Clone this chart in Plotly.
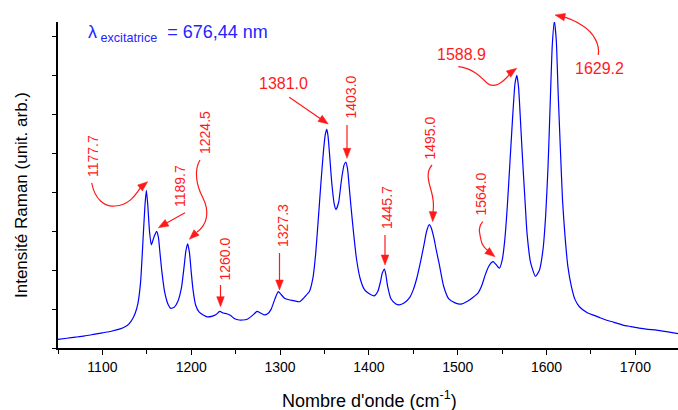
import math
import plotly.graph_objects as go

# ---- data ----
wavenumber = [
    1050, 1060, 1070, 1080, 1090, 1100, 1110, 1120, 1126, 1130,
    1134, 1137, 1140, 1143, 1146, 1148, 1149.5, 1151, 1153, 1155,
    1158, 1161, 1163, 1165, 1167, 1170, 1174, 1177, 1181, 1185,
    1189, 1192, 1194, 1196, 1198, 1200, 1202, 1205, 1209, 1214,
    1218, 1224, 1228, 1232, 1236, 1240, 1244, 1249, 1254, 1258,
    1263, 1268, 1271, 1274, 1278, 1282, 1286, 1290, 1294, 1298,
    1301, 1305, 1310, 1315, 1322, 1328, 1333, 1337, 1340, 1343,
    1346, 1349, 1351, 1352.6, 1354, 1356, 1358, 1361, 1363, 1366,
    1369, 1372, 1374, 1376, 1378, 1380, 1383, 1386, 1390, 1395,
    1400, 1406, 1410, 1413, 1415, 1417.5, 1419, 1421, 1425, 1430,
    1434, 1440, 1446, 1450, 1454, 1458, 1462, 1465, 1468, 1470,
    1473, 1476, 1479, 1484, 1490, 1497, 1504, 1511, 1517, 1523,
    1527, 1531, 1535, 1538, 1540, 1543, 1547, 1550, 1553, 1556,
    1559, 1562, 1564.5, 1566.6, 1568.5, 1571, 1573, 1576, 1578, 1582,
    1587.5, 1592, 1596, 1599, 1601.7, 1604, 1606.5, 1608.8, 1611, 1613,
    1615.6, 1618, 1620.5, 1624, 1628, 1632, 1637, 1645, 1652, 1660,
    1667, 1676, 1686, 1695, 1704, 1714, 1724, 1735, 1748,
]
intensity = [
    0.22, 0.25, 0.28, 0.31, 0.35, 0.39, 0.43, 0.49, 0.55, 0.62,
    0.75, 0.90, 1.15, 1.70, 2.90, 3.70, 4.05, 3.70, 3.00, 2.65,
    2.85, 3.00, 2.85, 2.40, 1.95, 1.45, 1.12, 1.02, 1.05, 1.20,
    1.55, 2.10, 2.50, 2.68, 2.45, 1.95, 1.50, 1.10, 0.92, 0.84,
    0.80, 0.82, 0.86, 0.94, 0.90, 0.88, 0.84, 0.75, 0.72, 0.72,
    0.74, 0.82, 0.88, 0.94, 0.90, 0.85, 0.88, 1.00, 1.25, 1.45,
    1.38, 1.28, 1.24, 1.22, 1.19, 1.32, 1.45, 1.80, 2.40, 3.30,
    4.24, 5.10, 5.50, 5.62, 5.45, 4.90, 4.30, 3.70, 3.56, 3.75,
    4.30, 4.70, 4.78, 4.60, 4.10, 3.60, 2.90, 2.30, 1.80, 1.50,
    1.40, 1.34, 1.45, 1.70, 1.92, 2.03, 1.90, 1.60, 1.26, 1.14,
    1.11, 1.16, 1.30, 1.50, 1.80, 2.20, 2.65, 3.00, 3.17, 3.10,
    2.85, 2.50, 2.18, 1.60, 1.26, 1.16, 1.13, 1.20, 1.30, 1.42,
    1.60, 1.88, 2.10, 2.20, 2.22, 2.15, 2.05, 2.25, 2.78, 3.70,
    4.85, 6.00, 6.80, 7.01, 6.70, 5.70, 4.85, 3.70, 2.96, 2.20,
    1.84, 2.00, 2.53, 3.40, 4.67, 6.20, 7.80, 8.40, 7.90, 6.60,
    5.10, 3.80, 2.96, 2.10, 1.58, 1.25, 1.06, 0.92, 0.85, 0.78,
    0.72, 0.66, 0.59, 0.55, 0.51, 0.48, 0.46, 0.42, 0.37,
]
assert len(wavenumber) == len(intensity)

x_ticks = [1100, 1200, 1300, 1400, 1500, 1600, 1700]

peak_labels = ["1177.7", "1189.7", "1224.5", "1260.0", "1327.3", "1381.0",
               "1403.0", "1445.7", "1495.0", "1564.0", "1588.9", "1629.2"]

# ---- layout helpers (pixel -> paper) ----
W, H = 678, 410
L, T, R, B = 58, 22, 678, 348


def pxx(x):
    return (x - L) / (R - L)


def pxy(y):
    return (B - y) / (B - T)


def pt(x, y):
    return f"{pxx(x):.5f},{pxy(y):.5f}"


RED = "#ff1a1a"
BLUE = "#0000ff"
FONT = "Arial, Liberation Sans, sans-serif"

fig = go.Figure()
fig.add_trace(go.Scatter(
    x=wavenumber, y=intensity, mode="lines",
    line=dict(color=BLUE, width=1.2, shape="spline", smoothing=0.5),
    hoverinfo="skip", showlegend=False,
))

annotations = []
shapes = []

# label text positions: (cx, cy, angle, size)
text_pos = {
    "1177.7": (93, 156, -90, 14),
    "1189.7": (180, 186, -90, 14),
    "1224.5": (205, 133, -90, 14),
    "1260.0": (224.5, 259, -90, 14),
    "1327.3": (283, 226, -90, 14),
    "1381.0": (283, 83.5, 0, 16),
    "1403.0": (350, 97.5, -90, 14),
    "1445.7": (387.5, 207.5, -90, 14),
    "1495.0": (429.5, 138, -90, 14),
    "1564.0": (480.5, 194, -90, 14),
    "1588.9": (461.5, 55, 0, 16),
    "1629.2": (599.5, 68.5, 0, 16),
}
for lab in peak_labels:
    cx, cy, ang, sz = text_pos[lab]
    annotations.append(dict(
        text=lab, x=pxx(cx), y=pxy(cy), xref="paper", yref="paper",
        showarrow=False, textangle=ang, xanchor="center", yanchor="middle",
        font=dict(family=FONT, size=sz, color=RED),
    ))

# arrows (pixel geometry): (tail, head, draw_shaft)
arrows = [
    ((185, 212.7), (158.3, 227.7), True),
    ((220.5, 285), (220.5, 306.7), True),
    ((279.5, 253), (279.5, 290), True),
    ((289.3, 97.3), (328.3, 124), True),
    ((347, 125), (347, 158.3), True),
    ((385, 235), (385, 265), True),
    # heads of curved arrows
    ((140, 188), (147.7, 181.7), False),
    ((196, 233), (189.3, 239.3), False),
    ((433, 212), (432.7, 221.7), False),
    ((489, 252), (495, 256.7), False),
    ((510, 73), (516.7, 68.3), False),
    ((562, 16.5), (555, 15), False),
]
HEAD_LEN, HEAD_HALF = 10.0, 3.8
for (tx, ty), (hx, hy), shaft in arrows:
    dx, dy = hx - tx, hy - ty
    n = math.hypot(dx, dy)
    ux, uy = dx / n, dy / n
    bx, by = hx - ux * HEAD_LEN, hy - uy * HEAD_LEN
    px_, py_ = -uy, ux
    p1 = (bx + px_ * HEAD_HALF, by + py_ * HEAD_HALF)
    p2 = (bx - px_ * HEAD_HALF, by - py_ * HEAD_HALF)
    shapes.append(dict(type="path", xref="paper", yref="paper",
                       path=f"M {pt(hx, hy)} L {pt(*p1)} L {pt(*p2)} Z",
                       fillcolor=RED, line=dict(color=RED, width=0.5)))
    if shaft:
        shapes.append(dict(type="path", xref="paper", yref="paper",
                           path=f"M {pt(tx, ty)} L {pt(bx + ux, by + uy)}",
                           line=dict(color=RED, width=1.2)))

curves = [
    [(91.7, 183), (95, 200), (105, 207), (115, 206), (130, 205), (136, 194), (141, 187)],
    [(200, 160), (194, 170), (196, 185), (203, 198), (210, 212), (207, 225), (197, 232)],
    [(432, 165), (426, 172), (428, 180), (431, 190), (434, 200), (434, 206), (433, 213)],
    [(482.7, 221.7), (477, 228), (480, 234), (481, 240), (482, 246), (485, 249), (490, 252)],
    [(458.3, 66.7), (472, 68), (480, 76), (487, 83), (494, 89), (503, 83), (511, 72.5)],
    [(598.3, 55), (600, 45), (594, 33), (583, 26), (576, 21), (569, 18), (561, 16.3)],
]
for c in curves:
    p0, c1, c2, p1, c3, c4, p2 = c
    path = (f"M {pt(*p0)} C {pt(*c1)} {pt(*c2)} {pt(*p1)} "
            f"C {pt(*c3)} {pt(*c4)} {pt(*p2)}")
    shapes.append(dict(type="path", path=path, xref="paper", yref="paper",
                       line=dict(color=RED, width=1.2)))

# excitation wavelength
annotations.append(dict(
    text="λ<sub> excitatrice</sub>  = 676,44 nm",
    x=pxx(86), y=pxy(33), xref="paper", yref="paper", showarrow=False,
    xanchor="left", yanchor="middle",
    font=dict(family=FONT, size=18, color="#2424ff"),
))
# axis titles
annotations.append(dict(
    text="Nombre d'onde (cm<sup>-1</sup>)", x=pxx(369), y=pxy(399),
    xref="paper", yref="paper", showarrow=False, xanchor="center", yanchor="middle",
    font=dict(family=FONT, size=18, color="black"),
))
annotations.append(dict(
    text="Intensité Raman (unit. arb.)", x=pxx(21), y=pxy(195), textangle=-90,
    xref="paper", yref="paper", showarrow=False, xanchor="center", yanchor="middle",
    font=dict(family=FONT, size=17, color="black"),
))

fig.update_layout(
    width=W, height=H,
    margin=dict(l=L, r=W - R, t=T, b=H - B),
    paper_bgcolor="white", plot_bgcolor="white",
    annotations=annotations, shapes=shapes,
    showlegend=False,
    xaxis=dict(
        range=[1050, 1748], tickvals=x_ticks, ticktext=[str(v) for v in x_ticks],
        ticks="outside", ticklen=5, tickwidth=1.2, tickcolor="black",
        minor=dict(dtick=50, tick0=1050, ticks="outside", ticklen=4, tickwidth=1.2, tickcolor="black"),
        showline=True, linecolor="black", linewidth=1.5, showgrid=False, zeroline=False,
        tickfont=dict(family=FONT, size=14, color="black"),
    ),
    yaxis=dict(
        range=[0, 8.38], dtick=1, tick0=0, showticklabels=False,
        ticks="outside", ticklen=4, tickwidth=1.2, tickcolor="black",
        showline=True, linecolor="black", linewidth=1.5, showgrid=False, zeroline=False,
    ),
)

fig.write_html(
    "out.html",
    config={"displayModeBar": False},
    post_script="document.body.style.margin='0';document.body.style.overflow='hidden';",
)
